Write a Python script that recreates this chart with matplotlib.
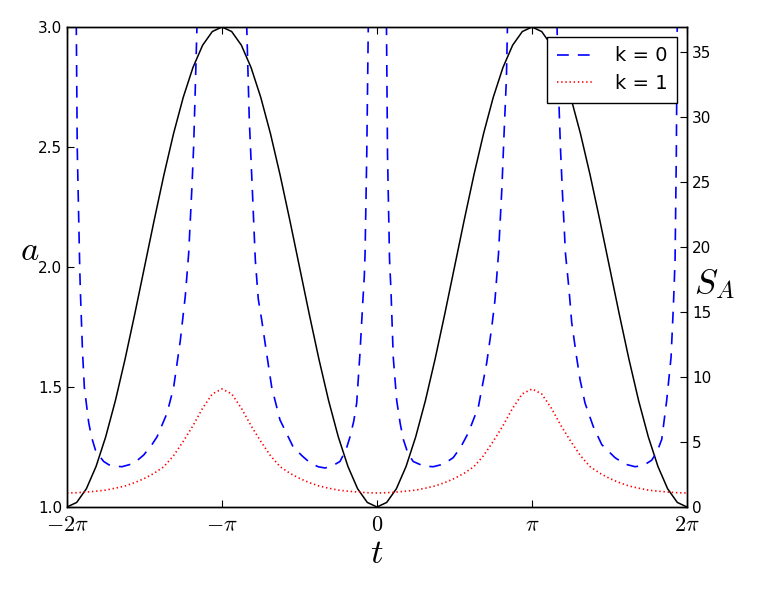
import numpy as np
import matplotlib
matplotlib.use('Agg')
import matplotlib.pyplot as plt

plt.rcParams['mathtext.fontset'] = 'cm'
plt.rcParams['font.family'] = ['DejaVu Sans']
plt.rcParams['lines.scale_dashes'] = False

# sample grid for a(t) and the k = 1 curve, in units of pi (step pi/16)
t_grid = np.linspace(-2, 2, 65)

# a(t)
a_vals = [1.000, 1.019, 1.076, 1.169, 1.293, 1.444, 1.617, 1.805, 2.000, 2.195, 2.383, 2.556, 2.707, 2.831, 2.924, 2.981, 3.000,
          2.981, 2.924, 2.831, 2.707, 2.556, 2.383, 2.195, 2.000, 1.805, 1.617, 1.444, 1.293, 1.169, 1.076, 1.019, 1.000,
          1.019, 1.076, 1.169, 1.293, 1.444, 1.617, 1.805, 2.000, 2.195, 2.383, 2.556, 2.707, 2.831, 2.924, 2.981, 3.000,
          2.981, 2.924, 2.831, 2.707, 2.556, 2.383, 2.195, 2.000, 1.805, 1.617, 1.444, 1.293, 1.169, 1.076, 1.019, 1.000]

# S_A for k = 1
s_k1 = [1.08, 1.10, 1.15, 1.22, 1.30, 1.45, 1.62, 1.88, 2.20, 2.60, 3.10, 3.95, 5.05, 6.25, 7.60, 8.70, 9.08,
        8.70, 7.60, 6.25, 5.05, 3.95, 3.10, 2.60, 2.20, 1.88, 1.62, 1.45, 1.30, 1.22, 1.15, 1.10, 1.08,
        1.10, 1.15, 1.22, 1.30, 1.45, 1.62, 1.88, 2.20, 2.60, 3.10, 3.95, 5.05, 6.25, 7.60, 8.70, 9.08,
        8.70, 7.60, 6.25, 5.05, 3.95, 3.10, 2.60, 2.20, 1.88, 1.62, 1.45, 1.30, 1.22, 1.15, 1.10, 1.08]

# S_A for k = 0, four branches between the poles (t in units of pi)
k0_t1 = [-1.940, -1.934, -1.918, -1.914, -1.900, -1.888, -1.860, -1.842, -1.817, -1.796, -1.763, -1.730,
         -1.699, -1.645, -1.570, -1.505, -1.452, -1.419, -1.355, -1.312, -1.269, -1.237, -1.215, -1.194,
         -1.183, -1.172, -1.161]
k0_s1 = [37.2, 27.7, 18.5, 16.7, 12.0, 9.2, 6.5, 5.4, 4.4, 4.0, 3.5, 3.25,
         3.15, 3.1, 3.35, 4.0, 4.8, 5.4, 7.2, 9.2, 12.8, 16.2, 19.5, 24.6,
         27.7, 32.3, 37.2]
k0_t2 = [-0.841, -0.824, -0.805, -0.785, -0.766, -0.744, -0.712, -0.679, -0.626, -0.540, -0.480, -0.432,
         -0.380, -0.335, -0.290, -0.239, -0.200, -0.174, -0.150, -0.131, -0.110, -0.092, -0.082, -0.077,
         -0.066, -0.056]
k0_s2 = [37.2, 29.8, 24.6, 19.0, 16.0, 14.4, 11.8, 9.2, 6.7, 4.6, 3.9, 3.4,
         3.1, 3.0, 3.15, 3.5, 4.4, 5.4, 6.6, 8.0, 11.8, 15.7, 17.7, 19.5,
         27.2, 37.2]
k0_t3 = [0.061, 0.068, 0.081, 0.090, 0.105, 0.127, 0.150, 0.170, 0.200, 0.234, 0.300, 0.363,
         0.430, 0.492, 0.540, 0.589, 0.654, 0.708, 0.740, 0.761, 0.784, 0.806, 0.819, 0.835, 0.842]
k0_s3 = [37.2, 27.0, 19.0, 16.7, 11.5, 8.2, 6.4, 5.2, 4.1, 3.5, 3.15, 3.1,
         3.3, 3.8, 4.6, 5.7, 7.7, 11.1, 13.8, 15.9, 19.5, 24.6, 28.5, 33.0, 37.2]
k0_t4 = [1.161, 1.171, 1.184, 1.197, 1.216, 1.239, 1.256, 1.288, 1.310, 1.342, 1.395, 1.450, 1.535,
         1.600, 1.665, 1.720, 1.772, 1.805, 1.837, 1.869, 1.897, 1.912, 1.923, 1.931, 1.937]
k0_s4 = [37.2, 32.0, 27.5, 24.0, 19.5, 16.7, 14.2, 11.5, 9.8, 8.0, 6.2, 4.8, 3.8,
         3.3, 3.1, 3.2, 3.6, 4.2, 5.2, 8.2, 11.5, 15.4, 19.0, 27.0, 37.2]

xtick_pos = [-2, -1, 0, 1, 2]
xtick_labels = [r'$-2\pi$', r'$-\pi$', r'$0$', r'$\pi$', r'$2\pi$']

fig = plt.figure(figsize=(7.63, 5.93), dpi=100)
ax = fig.add_axes([0.0878, 0.145, 0.8126, 0.8095])
ax2 = ax.twinx()

ax.plot(np.pi * t_grid, a_vals, color='k', lw=1.1)

branches = [(k0_t1, k0_s1), (k0_t2, k0_s2), (k0_t3, k0_s3), (k0_t4, k0_s4)]
for i, (tt, ss) in enumerate(branches):
    ax2.plot(np.pi * np.array(tt), ss, color='b', lw=1.2, linestyle=(0, (8.5, 6.5)),
             label='k = 0' if i == 0 else None)
ax2.plot(np.pi * t_grid, s_k1, color='r', lw=1.2, linestyle=(0, (1, 2)), label='k = 1')

ax.set_xlim(-2 * np.pi, 2 * np.pi)
ax.set_ylim(1.0, 3.0)
ax2.set_ylim(0, 36.92)
ax.set_xticks([np.pi * p for p in xtick_pos])
ax.set_xticklabels(xtick_labels, fontsize=16)
ax.set_yticks([1.0, 1.5, 2.0, 2.5, 3.0])
ax2.set_yticks([0, 5, 10, 15, 20, 25, 30, 35])

ax.tick_params(axis='both', direction='in', length=5, labelsize=11, top=True, right=False)
ax.tick_params(axis='x', labelsize=16, pad=6)
ax2.tick_params(axis='y', direction='in', length=5, labelsize=11)
for a in (ax, ax2):
    for sp in a.spines.values():
        sp.set_linewidth(1.0)

ax.set_xlabel('$t$', fontsize=25)
ax.xaxis.set_label_coords(0.5, -0.06)
ax.set_ylabel('$a$', fontsize=25, rotation=0, ha='center', va='bottom')
ax.yaxis.set_label_coords(-0.06, 0.5)
ax2.set_ylabel('$S_A$', fontsize=25, rotation=0, ha='center', va='top')
ax2.yaxis.set_label_coords(1.045, 0.5)

leg = ax2.legend(loc='upper right', fontsize=14, fancybox=False, framealpha=1,
                 edgecolor='black', borderaxespad=0.5, handlelength=1.9,
                 handletextpad=1.1, labelspacing=0.45, borderpad=0.5)
leg.get_frame().set_linewidth(1.0)

fig.savefig('out.png', dpi=100)
